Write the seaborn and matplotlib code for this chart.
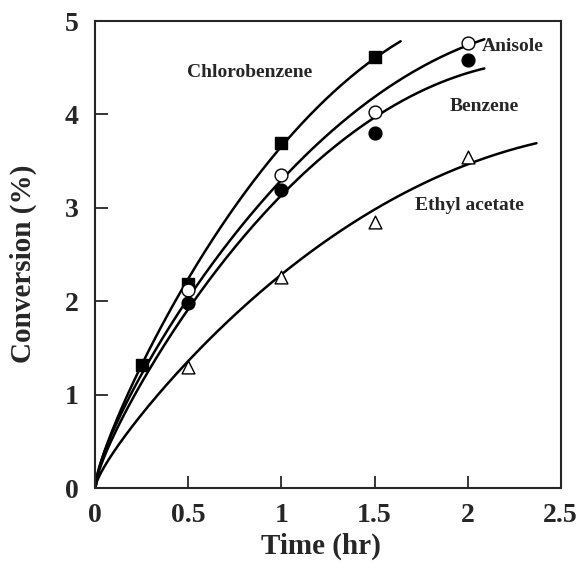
import numpy as np
import pandas as pd
import matplotlib
matplotlib.use("Agg")
import matplotlib.pyplot as plt
import seaborn as sns

chloro_t = [0.25, 0.5, 1.0, 1.5]
chloro_y = [1.32, 2.19, 3.69, 4.61]
anisole_t = [0.5, 1.0, 1.5, 2.0]
anisole_y = [2.12, 3.35, 4.03, 4.76]
benzene_t = [0.5, 1.0, 1.5, 2.0]
benzene_y = [1.98, 3.19, 3.80, 4.58]
ethyl_t = [0.5, 1.0, 1.5, 2.0]
ethyl_y = [1.30, 2.26, 2.85, 3.54]

# Points (used to fit a smooth curve)
chloro_curve_t = [0.15, 0.25, 0.5, 1.0, 1.5, 1.64]
chloro_curve_y = [0.94, 1.32, 2.19, 3.69, 4.62, 4.76]
anisole_curve_t = [0.19, 0.5, 1.0, 1.5, 2.0, 2.09]
anisole_curve_y = [0.94, 2.10, 3.33, 4.12, 4.74, 4.83]
benzene_curve_t = [0.215, 0.5, 1.0, 1.5, 2.0, 2.09]
benzene_curve_y = [0.94, 1.98, 3.20, 3.87, 4.44, 4.53]
ethyl_curve_t = [0.30, 0.5, 1.0, 1.5, 2.0, 2.37]
ethyl_curve_y = [0.94, 1.33, 2.30, 2.98, 3.47, 3.69]

series = {
    "Chlorobenzene": (chloro_t, chloro_y, chloro_curve_t, chloro_curve_y, "s", "black", 85),
    "Anisole": (anisole_t, anisole_y, anisole_curve_t, anisole_curve_y, "o", "white", 85),
    "Benzene": (benzene_t, benzene_y, benzene_curve_t, benzene_curve_y, "o", "black", 85),
    "Ethyl acetate": (ethyl_t, ethyl_y, ethyl_curve_t, ethyl_curve_y, "^", "white", 85),
}

def basis(t):
    t = np.asarray(t, float)
    return np.column_stack([np.sqrt(t), t, t ** 2])

sns.set_style("ticks")
plt.rcParams["font.family"] = ["Liberation Serif", "DejaVu Serif"]
plt.rcParams["font.weight"] = "bold"

fig, ax = plt.subplots(figsize=(5.78, 5.69), dpi=100)
fig.subplots_adjust(left=0.165, right=0.97, top=0.963, bottom=0.142)

for name, (t, y, ct, cy, m, fc, s) in series.items():
    coef, *_ = np.linalg.lstsq(basis(ct), np.asarray(cy, float), rcond=None)
    tt = np.linspace(0, max(ct), 300)
    cdf = pd.DataFrame({"t": tt, "y": basis(tt) @ coef})
    sns.lineplot(data=cdf, x="t", y="y", color="black", linewidth=1.8, ax=ax)
    pdf = pd.DataFrame({"t": t, "y": y})
    sns.scatterplot(data=pdf, x="t", y="y", marker=m, s=s,
                    facecolor=fc, edgecolor="black", linewidth=1.0, ax=ax, zorder=5)

ax.set_xlim(0, 2.5)
ax.set_ylim(0, 5)
ax.set_xticks([0, 0.5, 1, 1.5, 2, 2.5])
ax.set_xticklabels(["0", "0.5", "1", "1.5", "2", "2.5"])
ax.set_yticks([0, 1, 2, 3, 4, 5])
ax.set_yticklabels(["0", "1", "2", "3", "4", "5"])
ax.tick_params(direction="in", length=9, width=1.3, labelsize=20,
               top=False, right=False)
ax.tick_params(axis="x", pad=11)
ax.tick_params(axis="y", pad=12)
for lbl in ax.get_xticklabels() + ax.get_yticklabels():
    lbl.set_fontweight("bold")
for sp in ax.spines.values():
    sp.set_linewidth(1.5)
    sp.set_visible(True)

ax.set_xlabel("Time (hr)", fontsize=21, fontweight="bold")
ax.set_ylabel("Conversion (%)", fontsize=21, fontweight="bold")
ax.xaxis.set_label_coords(0.485, -0.095)
ax.yaxis.set_label_coords(-0.125, 0.48)

ax.text(0.83, 4.45, "Chlorobenzene", fontsize=14, fontweight="bold", ha="center", va="center")
ax.text(2.24, 4.73, "Anisole", fontsize=14, fontweight="bold", ha="center", va="center")
ax.text(2.09, 4.09, "Benzene", fontsize=14, fontweight="bold", ha="center", va="center")
ax.text(2.01, 3.03, "Ethyl acetate", fontsize=14, fontweight="bold", ha="center", va="center")

fig.savefig("out.png", dpi=100)
